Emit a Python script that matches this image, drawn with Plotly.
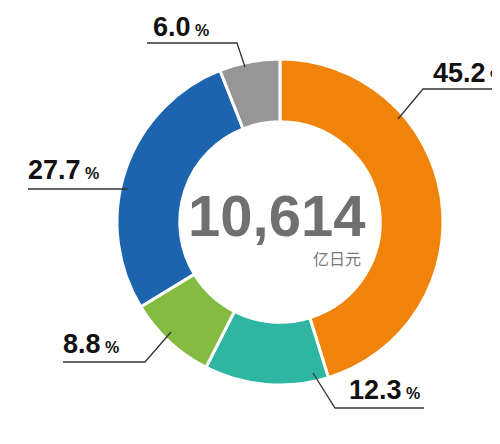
import plotly.graph_objects as go

# ---- data ----
categories = ["A", "B", "C", "D", "E"]
shares = [45.2, 12.3, 8.8, 27.7, 6.0]
colors = ["#F0830A", "#2EB6A3", "#84BB41", "#1C64AE", "#969696"]
total_value = "10,614"
unit_label = "亿日元"

# label placement (pixel style positions: text left, baseline, leader polyline)
label_text_pos = [(432, 82), (348, 399), (62, 353), (27, 179), (152, 36)]
leader_lines = [
    [(398, 119), (423, 89), (505, 89)],
    [(313, 373), (335, 408), (424, 408)],
    [(171, 332), (145, 362), (63, 362)],
    [(128, 189), (28, 189)],
    [(245, 67), (237, 43), (147, 43)],
]

# page body has an 8px margin: map window pixels to figure paper coords
OFF = 8
W, H = 500 - OFF, 444 - OFF
def px(x):
    return (x - OFF) / W
def py(y):
    return 1 - (y - OFF) / H

cx, cy, R = 280, 222, 163

fig = go.Figure(go.Pie(
    labels=categories,
    values=shares,
    sort=False,
    direction="clockwise",
    rotation=0,
    hole=0.615,
    marker=dict(colors=colors, line=dict(color="white", width=3)),
    textinfo="none",
    hoverinfo="skip",
    showlegend=False,
    domain=dict(x=[px(cx - R), px(cx + R)], y=[py(cy + R), py(cy - R)]),
))

shapes = []
for pts in leader_lines:
    path = "M " + " L ".join(f"{px(x)},{py(y)}" for x, y in pts)
    shapes.append(dict(type="path", path=path, xref="paper", yref="paper",
                       line=dict(color="#333333", width=1.3)))

annotations = []
for v, (x, y) in zip(shares, label_text_pos):
    annotations.append(dict(
        x=px(x), y=py(y + 7), xref="paper", yref="paper",
        xanchor="left", yanchor="bottom", showarrow=False,
        text=f"<b>{v:.1f}</b><span style='font-size:16px'><b> %</b></span>",
        font=dict(family="Liberation Sans, Arial", size=27, color="#111111"),
        borderpad=0,
    ))

annotations.append(dict(
    x=px(276), y=py(215), xref="paper", yref="paper", xanchor="center", yanchor="middle",
    showarrow=False, text=f"<b>{total_value}</b>",
    font=dict(family="Liberation Sans, Arial", size=58, color="#707070"),
))
annotations.append(dict(
    x=px(363), y=py(258), xref="paper", yref="paper", xanchor="right", yanchor="middle",
    showarrow=False, text=unit_label,
    font=dict(family="Noto Sans CJK SC", size=16, color="#7a7a7a"),
))

fig.update_layout(
    width=W, height=H,
    margin=dict(l=0, r=0, t=0, b=0),
    paper_bgcolor="white", plot_bgcolor="white",
    shapes=shapes, annotations=annotations,
)

fig.write_html("out.html")
